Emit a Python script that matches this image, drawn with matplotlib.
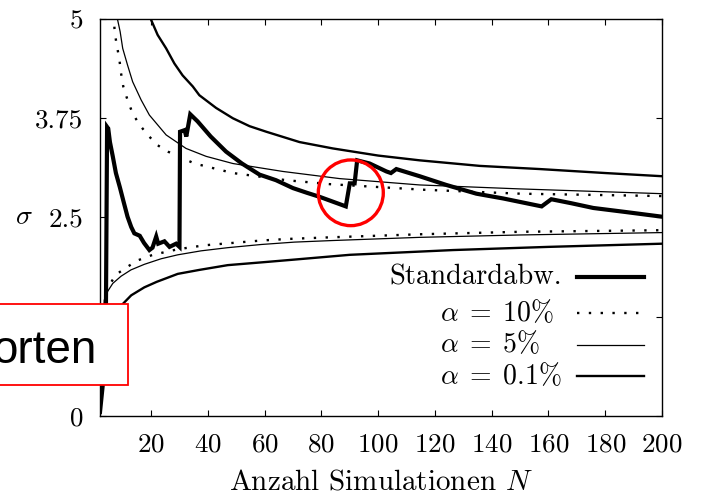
import matplotlib
matplotlib.use("Agg")
import matplotlib.pyplot as plt
from matplotlib.patches import Rectangle, Ellipse
from matplotlib.lines import Line2D

plt.rcParams['font.family'] = 'serif'
plt.rcParams['font.serif'] = ['cmr10']
plt.rcParams['mathtext.fontset'] = 'cm'
plt.rcParams['axes.formatter.use_mathtext'] = True

# Standard deviation of the simulation results
std_n = [2.0, 3.0, 4.1, 4.5, 4.9, 5.5, 6.5, 7.6, 9.0, 10.3, 11.7, 13.0, 14.1, 16.0, 17.5,
         19.4, 20.5, 21.8, 22.5, 24.7, 26.5, 28.8, 30.0, 30.2, 31.8, 32.4, 33.8, 36.4,
         41.0, 46.4, 52.0, 58.2, 64.0, 70.0, 75.0, 79.4, 84.0, 88.6, 90.0, 91.7, 92.6,
         97.0, 102.9, 104.5, 106.4, 114.6, 124.0, 134.6, 144.0, 157.6, 161.0, 168.0,
         175.8, 187.0, 200.0]
std_val = [0.05, 0.4, 1.4, 3.64, 3.62, 3.45, 3.27, 3.06, 2.88, 2.70, 2.51, 2.38, 2.30,
           2.27, 2.18, 2.09, 2.12, 2.26, 2.17, 2.20, 2.13, 2.17, 2.13, 3.58, 3.60, 3.52,
           3.80, 3.71, 3.52, 3.33, 3.18, 3.04, 2.97, 2.87, 2.81, 2.76, 2.70, 2.64, 2.93,
           2.93, 3.22, 3.18, 3.08, 3.06, 3.11, 3.02, 2.91, 2.80, 2.74, 2.64, 2.73, 2.68,
           2.62, 2.57, 2.51]

# confidence bounds, alpha = 10 %
up10_n = [6.6, 7.1, 7.7, 8.8, 9.4, 10.2, 11.7, 13.5, 15.9, 18.8, 22.3, 25.9, 35.3, 48.8,
          67.6, 82.9, 115.8, 150.0, 200.0]
up10_val = [5.2, 4.88, 4.71, 4.50, 4.32, 4.15, 3.98, 3.81, 3.67, 3.54, 3.41, 3.33, 3.18,
            3.06, 2.97, 2.92, 2.85, 2.80, 2.77]
lo10_n = [4.2, 5.5, 7.6, 11.7, 15.3, 20.6, 29.4, 38.8, 48.8, 58.8, 68.2, 82.9, 115.8, 150.0, 200.0]
lo10_val = [1.56, 1.66, 1.78, 1.88, 1.96, 2.03, 2.10, 2.15, 2.18, 2.21, 2.23, 2.25, 2.29, 2.32, 2.34]

# confidence bounds, alpha = 5 %
up5_n = [7.6, 8.2, 9.1, 10.0, 11.7, 13.5, 16.5, 19.4, 25.3, 32.3, 39.4, 48.8, 66.4, 86.4,
         114.6, 150.0, 200.0]
up5_val = [5.3, 4.99, 4.84, 4.63, 4.42, 4.21, 3.98, 3.79, 3.54, 3.37, 3.27, 3.18, 3.08,
           2.99, 2.91, 2.86, 2.80]
lo5_n = [2.8, 3.5, 4.7, 6.5, 9.4, 12.9, 17.6, 23.5, 29.4, 37.6, 47.0, 58.8, 70.5, 84.0,
         114.6, 150.0, 200.0]
lo5_val = [1.0, 1.46, 1.57, 1.67, 1.76, 1.84, 1.91, 1.98, 2.03, 2.08, 2.12, 2.16, 2.19,
           2.21, 2.25, 2.28, 2.31]

# confidence bounds, alpha = 0.1 %
up01_n = [19.0, 20.0, 22.3, 25.3, 28.2, 31.1, 34.7, 37.0, 42.9, 48.8, 54.7, 60.6, 72.3,
          84.0, 100.0, 114.6, 135.8, 157.0, 180.0, 200.0]
up01_val = [5.15, 4.99, 4.80, 4.63, 4.44, 4.29, 4.15, 4.04, 3.88, 3.75, 3.65, 3.58, 3.45,
            3.37, 3.28, 3.22, 3.15, 3.11, 3.06, 3.02]
lo01_n = [3.0, 5.0, 7.5, 10.0, 13.0, 17.6, 22.0, 29.4, 37.0, 47.0, 60.6, 70.5, 90.0, 126.4, 160.0, 200.0]
lo01_val = [0.5, 1.0, 1.25, 1.41, 1.52, 1.62, 1.69, 1.79, 1.84, 1.90, 1.94, 1.97, 2.03, 2.09, 2.13, 2.17]

xticks = [20, 40, 60, 80, 100, 120, 140, 160, 180, 200]
yticks = [0, 1.25, 2.5, 3.75, 5]
ytick_labels = ['0', '1.25', '2.5', '3.75', '5']

legend_labels = ['Standardabw.', r'$\alpha\;=\;10\%$', r'$\alpha\;=\;5\%$', r'$\alpha\;=\;0.1\%$']

fig = plt.figure(figsize=(7.01, 4.99), dpi=100)
ax = fig.add_axes([100 / 701, 83 / 499, 562 / 701, 397 / 499])

style_std = dict(color='black', lw=3.0, solid_joinstyle='miter')
style10 = dict(color='black', lw=1.7, linestyle=(0, (1, 4)), dash_capstyle='butt')
style5 = dict(color='black', lw=0.9)
style01 = dict(color='black', lw=1.7)

ax.plot(up10_n, up10_val, **style10)
ax.plot(lo10_n, lo10_val, **style10)
ax.plot(up5_n, up5_val, **style5)
ax.plot(lo5_n, lo5_val, **style5)
ax.plot(up01_n, up01_val, **style01)
ax.plot(lo01_n, lo01_val, **style01)
ax.plot(std_n, std_val, **style_std)

ax.set_xlim(2, 200)
ax.set_ylim(0, 5)
ax.set_xticks(xticks)
ax.set_yticks(yticks, ytick_labels)
ax.tick_params(direction='in', top=True, right=True, length=4.5, width=0.8,
               labelsize=19.5, colors='black')
ax.tick_params(axis='x', pad=12)
ax.tick_params(axis='y', pad=12)
for s in ax.spines.values():
    s.set_linewidth(1.0)

ax.set_xlabel(r'Anzahl Simulationen $N$', fontsize=21)
ax.xaxis.set_label_coords(0.5, -0.168)
ax.xaxis.label.set_va('center')
ax.set_ylabel(r'$\sigma$', fontsize=20, rotation=0, va='center', ha='center')
ax.yaxis.set_label_coords(-0.135, 0.501)

# legend drawn by hand (text left of the line sample)
handle_styles = [style_std, style10, style5, style01]
row_y = [0.350, 0.260, 0.180, 0.101]
for i, (lab, st) in enumerate(zip(legend_labels, handle_styles)):
    if i == 0:
        ax.text(0.8215, row_y[i], lab, transform=ax.transAxes, ha='right', va='center', fontsize=20.5)
    else:
        ax.text(0.605, row_y[i], lab, transform=ax.transAxes, ha='left', va='center', fontsize=20)
    ax.add_line(Line2D([0.849, 0.968], [row_y[i], row_y[i]], transform=ax.transAxes, **st))

# red overlay from the slide
box = Rectangle((-0.01, 1 - 384.7 / 499), 0.01 + 127.7 / 701, 80.4 / 499,
                transform=fig.transFigure, facecolor='white', edgecolor='red', lw=1.3, zorder=10)
fig.add_artist(box)
fig.text(97 / 701, 1 - 363.3 / 499, 'orten', ha='right', va='baseline',
         family='Liberation Sans', fontsize=33, zorder=11)
ring = Ellipse((350.8 / 701, 1 - 192.8 / 499), 65 / 701, 65.7 / 499,
               transform=fig.transFigure, facecolor='none', edgecolor='red', lw=2.4, zorder=10)
fig.add_artist(ring)

fig.savefig('out.png', dpi=100)
